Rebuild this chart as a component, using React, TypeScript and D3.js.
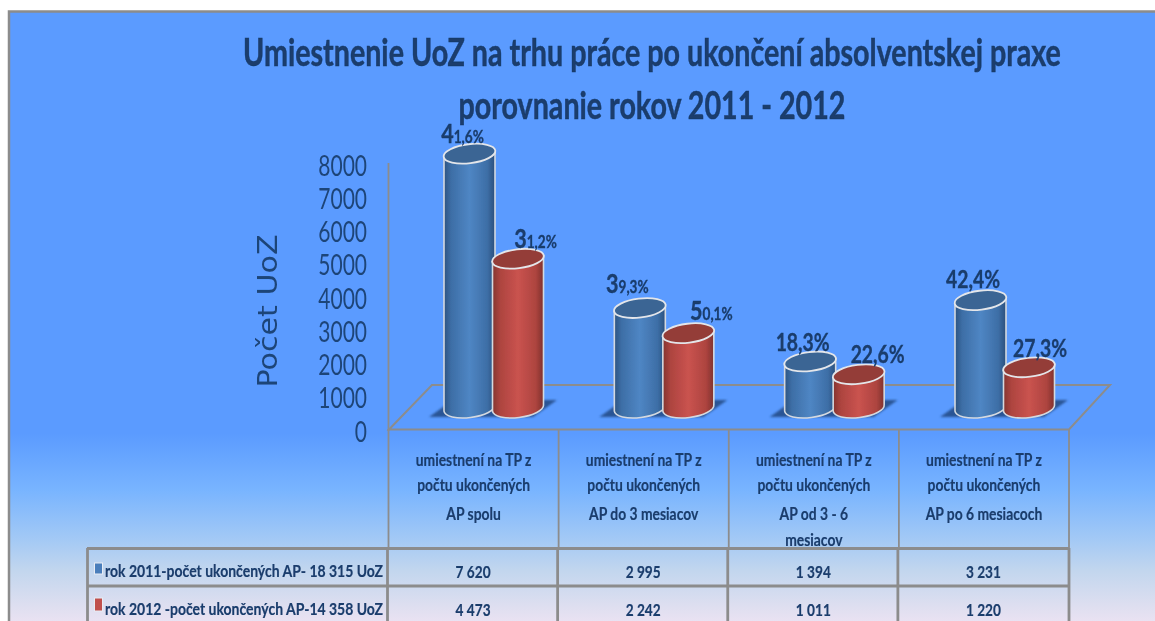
import React from "react";
import * as d3 from "d3";

const titleLines = ["Umiestnenie UoZ na trhu práce po ukončení absolventskej praxe", "porovnanie rokov 2011 - 2012"];
const yTicks = [0, 1000, 2000, 3000, 4000, 5000, 6000, 7000, 8000];
const yTitle = "Počet UoZ";
const categories = ["spolu", "do3", "od3-6", "po6"];
const headerLabels = [
  ["umiestnení na TP z", "počtu ukončených", "AP spolu"],
  ["umiestnení na TP z", "počtu ukončených", "AP do 3 mesiacov"],
  ["umiestnení na TP z", "počtu ukončených", "AP od 3 - 6", "mesiacov"],
  ["umiestnení na TP z", "počtu ukončených", "AP po 6 mesiacoch"],
];
const series2011 = [7620, 2995, 1394, 3231];
const series2012 = [4473, 2242, 1011, 1220];
const labels2011 = ["41,6%", "39,3%", "18,3%", "42,4%"];
const labels2012 = ["31,2%", "50,1%", "22,6%", "27,3%"];
const values2011 = ["7 620", "2 995", "1 394", "3 231"];
const values2012 = ["4 473", "2 242", "1 011", "1 220"];
const legendLabels = ["rok 2011-počet ukončených AP- 18 315 UoZ", "rok 2012 -počet ukončených AP-14 358 UoZ"];

const W = 1155, H = 621;
const FONT = "Lato, 'Noto Sans', sans-serif";
const INK = "#1a3c6c";
const GRID = "#8c8c8c";
const barY = d3.scaleLinear().domain([0, 8000]).range([408, 141]);
const tickY = d3.scaleLinear().domain([0, 8000]).range([431, 165]);
const groupX = d3.scalePoint<string>().domain(categories).range([493, 1004]);
const tableX = d3.scalePoint<string>().domain(categories.concat("end")).range([388.5, 1069]);

const RX = 25.5, RY = 9.5, ROT = -7;
const dy = RX * Math.sin((-ROT * Math.PI) / 180);
const HEADER_BASE = [466, 491, 520, 546];
const DX_2011 = [-30.5, -36, -31, -31];
const DX_2012 = [42.5, 48, 44, 36];
const DY_2011 = [-11, -15, -10.5, -12];
const DY_2012 = [-10.5, -13, -11, -10];

function T({ x, y, sx = 0.8, size, weight = 700, anchor = "middle", fill = INK, children, heavy = 0.35 }: any) {
  return (
    <text transform={`translate(${x},${y}) scale(${sx},1)`} fontFamily={FONT} fontSize={size} fontWeight={weight}
      textAnchor={anchor} fill={fill} stroke={heavy ? fill : "none"} strokeWidth={heavy} filter="url(#soft)">
      {children}
    </text>
  );
}

function Cyl({ cx, top, base, id, topFill }: any) {
  const body = `M${cx - RX},${top + dy} L${cx - RX},${base + dy} A${RX},${RY} ${ROT} 0 0 ${cx + RX},${base - dy} L${cx + RX},${top - dy} Z`;
  return (
    <g filter="url(#soft2)">
      <path d={body} fill={`url(#${id})`} stroke="#d4d9e0" strokeWidth={1.6} />
      <ellipse cx={cx} cy={top} rx={RX + 0.5} ry={RY} transform={`rotate(${ROT} ${cx} ${top})`} fill={topFill} stroke="#e4e6ea" strokeWidth={1.8} />
    </g>
  );
}

function Label({ x, y, text, split }: any) {
  if (split) {
    return (
      <text transform={`translate(${x},${y}) scale(0.8,1)`} fontFamily={FONT} fontWeight={700} textAnchor="middle" fill={INK} stroke={INK} strokeWidth={0.35} filter="url(#soft)">
        <tspan fontSize={27}>{text[0]}</tspan>
        <tspan fontSize={17}>{text.slice(1)}</tspan>
      </text>
    );
  }
  return <T x={x} y={y} size={25.5} sx={0.76}>{text}</T>;
}

export default function App() {
  const colW = tableX.step();
  return (
    <svg width={W} height={H} viewBox={`0 0 ${W} ${H}`} style={{ position: "absolute", left: 0, top: 0, display: "block" }}>
      <defs>
        <linearGradient id="bg" x1="0" y1="0" x2="0" y2="1">
          <stop offset="0" stopColor="#5b9bff" />
          <stop offset="0.68" stopColor="#5b9bff" />
          <stop offset="0.77" stopColor="#78b4ff" />
          <stop offset="0.85" stopColor="#a3c9f5" />
          <stop offset="0.9" stopColor="#c2d6ee" />
          <stop offset="0.96" stopColor="#dfdff0" />
          <stop offset="1" stopColor="#f2e4f4" />
        </linearGradient>
        <linearGradient id="blueG" x1="0" y1="0" x2="1" y2="0">
          <stop offset="0" stopColor="#2c5482" />
          <stop offset="0.14" stopColor="#3d6ea6" />
          <stop offset="0.5" stopColor="#4f86c4" />
          <stop offset="0.85" stopColor="#3d6ea6" />
          <stop offset="1" stopColor="#2a4f7c" />
        </linearGradient>
        <linearGradient id="redG" x1="0" y1="0" x2="1" y2="0">
          <stop offset="0" stopColor="#843430" />
          <stop offset="0.15" stopColor="#ad443f" />
          <stop offset="0.5" stopColor="#ca534f" />
          <stop offset="0.85" stopColor="#ad443f" />
          <stop offset="1" stopColor="#7e312d" />
        </linearGradient>
        <filter id="soft" x="-5%" y="-20%" width="110%" height="140%">
          <feGaussianBlur stdDeviation="0.4" />
        </filter>
        <filter id="soft2" x="-20%" y="-20%" width="140%" height="140%">
          <feGaussianBlur stdDeviation="0.6" />
        </filter>
        <filter id="shadow" x="-20%" y="-40%" width="140%" height="180%">
          <feGaussianBlur stdDeviation="1" />
        </filter>
      </defs>

      <rect x={9} y={11.5} width={W + 10} height={H} fill="url(#bg)" stroke={GRID} strokeWidth={2.5} />

      {titleLines.map((l, i) => (
        <T key={i} x={652} y={66 + i * 53} size={39} sx={0.735} heavy={0.5}>{l}</T>
      ))}

      {yTicks.map((t) => (
        <T key={t} x={367} y={tickY(t) + 10.5} size={28} weight={400} anchor="end" sx={0.75} fill="#1f4478" heavy={0}>{d3.format("d")(t)}</T>
      ))}
      <text transform="translate(277,311) rotate(-90) scale(1.16,1)" fontFamily="'DejaVu Sans', sans-serif" fontSize={26} textAnchor="middle" fill="#1f4478" filter="url(#soft)">{yTitle}</text>

      <g fill="none" stroke={GRID} strokeWidth={1.8}>
        <line x1={388.5} y1={163} x2={388.5} y2={431} />
        <path d="M389,429.5 L432,385 L1110,385 L1069,429.5 Z" strokeWidth={2} />
      </g>

      {categories.map((c) => {
        const x = groupX(c)!;
        return (
          <path key={c} d={`M${x - 64},417 L${x - 40},400 L${x + 64},400 L${x + 40},417 Z`} fill="#2a5595" filter="url(#shadow)" />
        );
      })}

      {categories.map((c, i) => {
        const x = groupX(c)!;
        const a = barY(series2011[i]), b = barY(series2012[i]);
        return (
          <g key={c}>
            <Cyl cx={x - 23.5} top={a} base={barY(0)} id="blueG" topFill="#3b6594" />
            <Cyl cx={x + 25} top={b} base={barY(0)} id="redG" topFill="#943c38" />
          </g>
        );
      })}

      {categories.map((c, i) => {
        const x = groupX(c)!;
        const split = i < 2;
        return (
          <g key={c}>
            <Label x={x + DX_2011[i]} y={barY(series2011[i]) + DY_2011[i]} text={labels2011[i]} split={split} />
            <Label x={x + DX_2012[i]} y={barY(series2012[i]) + DY_2012[i]} text={labels2012[i]} split={split} />
          </g>
        );
      })}

      <g stroke={GRID} strokeWidth={1.8}>
        {categories.concat("end").map((c) => (
          <line key={c} x1={tableX(c)} x2={tableX(c)} y1={429} y2={548} />
        ))}
      </g>
      {categories.map((c, i) =>
        headerLabels[i].map((l, j) => (
          <T key={j} x={tableX(c)! + colW / 2} y={HEADER_BASE[j]} size={17.8} sx={0.78} heavy={0.2}>{l}</T>
        ))
      )}

      <g stroke={GRID} strokeWidth={2.8} fill="none">
        <line x1={87} x2={1069} y1={548.5} y2={548.5} />
        <line x1={87} x2={1069} y1={586} y2={586} />
        <line x1={87.5} x2={87.5} y1={548} y2={H} />
        {categories.concat("end").map((c) => (
          <line key={c} x1={tableX(c)! - (c === "end" ? 0 : 1)} x2={tableX(c)! - (c === "end" ? 0 : 1)} y1={548} y2={H} />
        ))}
      </g>
      {[values2011, values2012].map((vals, r) => (
        <g key={r}>
          <rect x={94.5} y={[563, 598][r]} width={8} height={[11, 13][r]} fill={["#4a7ebb", "#c0504d"][r]} stroke="#e8ecf4" strokeWidth={1} />
          <T x={105} y={[577, 615][r]} size={17.5} sx={0.8} anchor="start" heavy={0.2}>{legendLabels[r]}</T>
          {vals.map((v, i) => (
            <T key={i} x={tableX(categories[i])! + colW / 2 - 0.5} y={[578, 616][r]} size={17.5} sx={0.78} heavy={0.2}>{v}</T>
          ))}
        </g>
      ))}
    </svg>
  );
}
